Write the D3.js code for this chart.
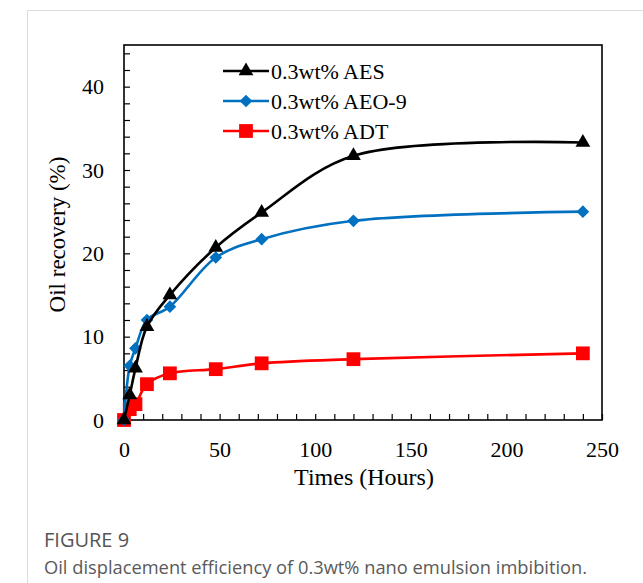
<!DOCTYPE html>
<html>
<head>
<meta charset="utf-8">
<script src="https://cdn.jsdelivr.net/npm/d3@7"></script>
<style>
  body { margin: 0; background: #fff; }
  svg { display: block; }
</style>
</head>
<body>
<div id="chart"></div>
<script>
// data
const times = [0, 3, 6, 12, 24, 48, 72, 120, 240];
const aes = [0, 3.0, 6.2, 11.2, 15.0, 20.7, 24.9, 31.7, 33.3];
const aeo9 = [0, 6.5, 8.6, 12.0, 13.6, 19.5, 21.7, 23.9, 25.0];
const adt = [0, 1.3, 1.9, 4.3, 5.6, 6.1, 6.8, 7.3, 8.0];
const seriesNames = ["0.3wt% AES", "0.3wt% AEO-9", "0.3wt% ADT"];
const xTickLabels = [0, 50, 100, 150, 200, 250];
const yTickLabels = [0, 10, 20, 30, 40];

const width = 643, height = 583;
const margin = { top: 45, right: 41, bottom: 163, left: 124 };
const w = width - margin.left - margin.right,
  h = height - margin.top - margin.bottom;
const serif = "'Liberation Serif', 'Times New Roman', serif";

const svg = d3
  .select("#chart")
  .append("svg")
  .attr("width", width)
  .attr("height", height);

// page frame lines
svg.append("line").attr("x1", 27.5).attr("x2", 27.5).attr("y1", 10).attr("y2", height)
  .attr("stroke", "#dcdcdc").attr("stroke-width", 1);
svg.append("line").attr("x1", 27).attr("x2", width).attr("y1", 10.5).attr("y2", 10.5)
  .attr("stroke", "#dcdcdc").attr("stroke-width", 1);

const g = svg.append("g").attr("transform", "translate(" + margin.left + "," + margin.top + ")");

const x = d3.scaleLinear().domain([0, 250]).range([0, w]);
const y = d3.scaleLinear().domain([0, 45]).range([h, 0]);

// frame
g.append("rect").attr("x", 0).attr("y", 0).attr("width", w).attr("height", h)
  .attr("fill", "none").attr("stroke", "#000").attr("stroke-width", 1.6);

// x axis: inward ticks every 10, labels every 50
const xAxis = g.append("g")
  .attr("transform", "translate(0," + h + ")")
  .call(d3.axisBottom(x).tickValues(d3.range(0, 251, 10)).tickSize(-6).tickFormat(""));
xAxis.select(".domain").remove();
xAxis.selectAll("line").attr("stroke", "#000").attr("stroke-width", 1.2);

const xLab = g.append("g")
  .attr("transform", "translate(0," + h + ")")
  .call(d3.axisBottom(x).tickValues(xTickLabels).tickSize(0).tickPadding(21));
xLab.select(".domain").remove();
xLab.selectAll("text")
  .style("font-family", serif)
  .style("font-size", "22px").attr("fill", "#000");

// y axis: inward ticks every 2, labels every 10
const yAxis = g.append("g")
  .call(d3.axisLeft(y).tickValues(d3.range(0, 46, 2)).tickSize(-6).tickFormat(""));
yAxis.select(".domain").remove();
yAxis.selectAll("line").attr("stroke", "#000").attr("stroke-width", 1.2);

const yLab = g.append("g")
  .call(d3.axisLeft(y).tickValues(yTickLabels).tickSize(0).tickPadding(20));
yLab.select(".domain").remove();
yLab.selectAll("text")
  .style("font-family", serif)
  .style("font-size", "22px").attr("fill", "#000");

// axis titles
svg.append("text")
  .attr("x", margin.left + w / 2 + 1).attr("y", 485)
  .attr("text-anchor", "middle")
  .style("font-family", serif)
  .style("font-size", "24px")
  .text("Times (Hours)");

svg.append("text")
  .attr("transform", "translate(65," + (margin.top + h / 2 + 2) + ") rotate(-90)")
  .attr("text-anchor", "middle")
  .style("font-family", serif)
  .style("font-size", "23px")
  .text("Oil recovery (%)");

// diamond = square turned 45deg (excel style)
const series = [
  { name: seriesNames[0], values: aes, color: "#000000", symbol: d3.symbolTriangle, size: 95, rot: 0 },
  { name: seriesNames[1], values: aeo9, color: "#0070C0", symbol: d3.symbolSquare, size: 80, rot: 45 },
  { name: seriesNames[2], values: adt, color: "#FF0000", symbol: d3.symbolSquare, size: 190, rot: 0 },
];

const line = d3.line()
  .x((d) => x(d[0]))
  .y((d) => y(d[1]))
  .curve(d3.curveCatmullRom.alpha(0.5));

// draw red first so black/blue sit on top, like the figure
series.slice().reverse().forEach((s) => {
  const pts = times.map((t, i) => [t, s.values[i]]);
  g.append("path")
    .datum(pts)
    .attr("d", line)
    .attr("fill", "none")
    .attr("stroke", s.color)
    .attr("stroke-width", 2.6);
  g.selectAll(null)
    .data(pts)
    .enter()
    .append("path")
    .attr("d", d3.symbol().type(s.symbol).size(s.size))
    .attr("transform", (d) => "translate(" + x(d[0]) + "," + y(d[1]) + ") rotate(" + s.rot + ")")
    .attr("fill", s.color);
});

// legend
const legend = svg.append("g").attr("transform", "translate(223,71)");
series.forEach((s, i) => {
  const row = legend.append("g").attr("transform", "translate(0," + i * 30 + ")");
  row.append("line").attr("x1", 0).attr("x2", 46).attr("y1", 0).attr("y2", 0)
    .attr("stroke", s.color).attr("stroke-width", 2.6);
  row.append("path")
    .attr("d", d3.symbol().type(s.symbol).size(s.size))
    .attr("transform", "translate(23,0) rotate(" + s.rot + ")")
    .attr("fill", s.color);
  row.append("text")
    .attr("x", 48).attr("y", 8)
    .style("font-family", serif)
    .style("font-size", "22px")
    .text(s.name);
});

// caption
svg.append("text")
  .attr("x", 44).attr("y", 547)
  .style("font-family", "'Open Sans', 'Noto Sans', sans-serif")
  .style("font-size", "20px")
  .attr("fill", "#555")
  .text("FIGURE 9");
svg.append("text")
  .attr("x", 44).attr("y", 574)
  .style("font-family", "'Open Sans', 'Noto Sans', sans-serif")
  .style("font-size", "18.3px")
  .attr("fill", "#5a5a5a")
  .text("Oil displacement efficiency of 0.3wt% nano emulsion imbibition.");
</script>
</body>
</html>
